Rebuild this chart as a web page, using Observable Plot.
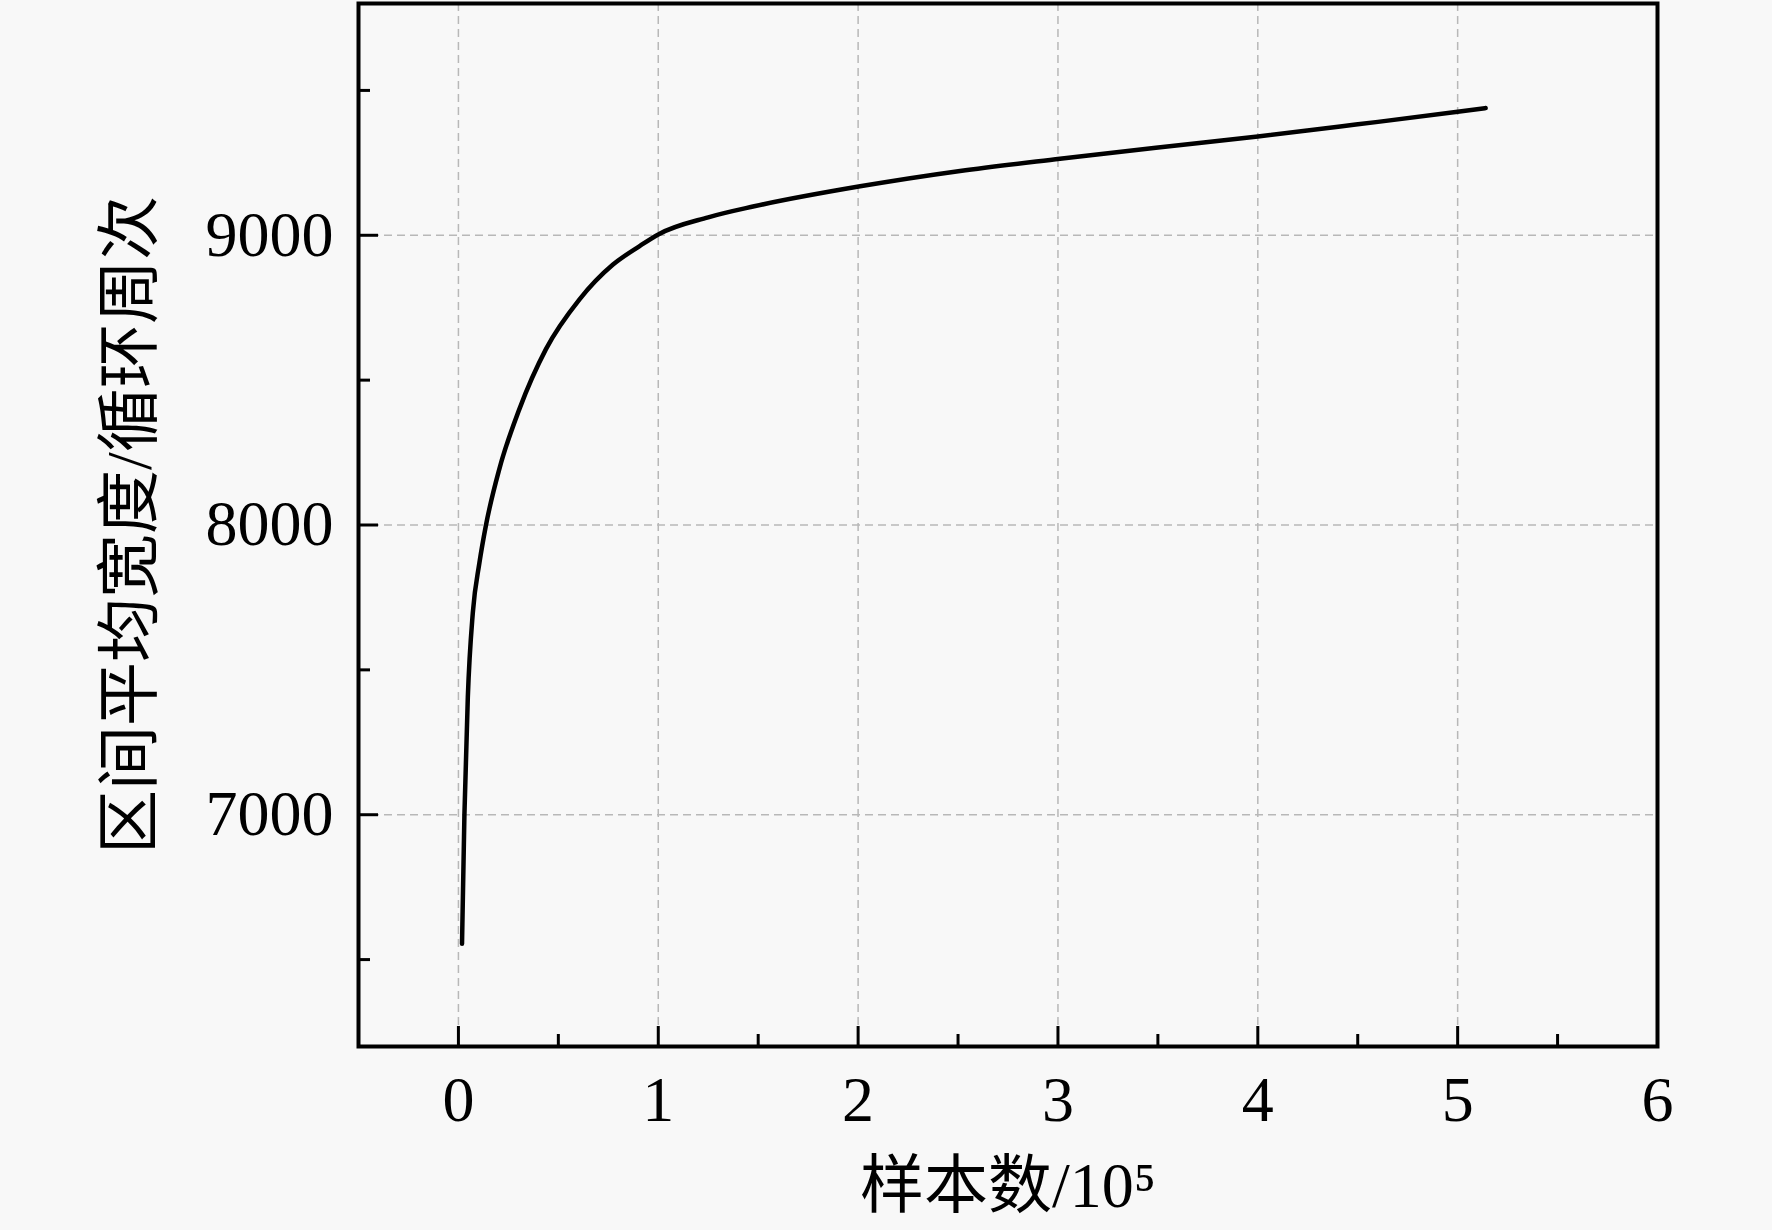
<!DOCTYPE html>
<html>
<head>
<meta charset="utf-8">
<script src="https://cdn.jsdelivr.net/npm/d3@7"></script>
<script src="https://cdn.jsdelivr.net/npm/@observablehq/plot@0.6"></script>
<style>
  html, body { margin: 0; padding: 0; background: #f8f8f8; }
</style>
</head>
<body>
<div id="chart"></div>
<script>
// curve: samples (x 10^5) vs mean interval width
const samples = [0.018, 0.03, 0.047, 0.072, 0.105, 0.138, 0.205, 0.305, 0.438, 0.605, 0.772, 0.905, 1.0, 1.25, 1.48, 2.01, 2.51, 3.01, 3.49, 4.0, 4.49, 5.0, 5.14]
const width_cycles = [6555, 7000, 7405, 7697, 7869, 8000, 8194, 8400, 8607, 8778, 8898, 8962, 9003, 9062, 9100, 9169, 9222, 9264, 9302, 9341, 9382, 9426, 9439]

const xMajor = [0, 1, 2, 3, 4, 5, 6]
const xMinor = [0.5, 1.5, 2.5, 3.5, 4.5, 5.5]
const yMajor = [7000, 8000, 9000]
const yMinor = [6500, 7500, 8500, 9500]

const xTitle = "样本数/10⁵"
const yTitle = "区间平均宽度/循环周次"

const data = samples.map((x, i) => ({x: x, y: width_cycles[i]}))

let chart = Plot.plot({
  width: 1772,
  height: 1230,
  marginLeft: 358,
  marginRight: 115,
  marginTop: 3,
  marginBottom: 184,
  style: {
    background: "#f8f8f8",
    color: "black",
    fontFamily: "'Liberation Serif', 'Noto Sans CJK SC', serif",
    fontSize: "64px",
  },
  x: {domain: [-0.5, 6]},
  y: {domain: [6200, 9800]},
  marks: [
    Plot.gridX({ticks: xMajor, stroke: "#b8b8b8", strokeOpacity: 1, strokeWidth: 1.5, strokeDasharray: "8,5"}),
    Plot.gridY({ticks: yMajor, stroke: "#b8b8b8", strokeOpacity: 1, strokeWidth: 1.5, strokeDasharray: "8,5"}),
    // inward ticks
    Plot.axisX({ticks: xMajor, tickSize: -20, strokeWidth: 3, tickFormat: () => "", label: null}),
    Plot.axisX({ticks: xMinor, tickSize: -12, strokeWidth: 3, tickFormat: () => "", label: null}),
    Plot.axisY({ticks: yMajor, tickSize: -20, strokeWidth: 3, tickFormat: () => "", label: null}),
    Plot.axisY({ticks: yMinor, tickSize: -12, strokeWidth: 3, tickFormat: () => "", label: null}),
    // tick labels
    Plot.axisX({ticks: xMajor, tickSize: 0, tickPadding: 29, fontSize: 64, tickFormat: d => String(d), label: null}),
    Plot.axisY({ticks: yMajor, tickSize: 0, tickPadding: 25, fontSize: 64, tickFormat: d => String(d), label: null}),
    // axis titles
    Plot.text([xTitle], {text: d => d, frameAnchor: "bottom", textAnchor: "middle", lineAnchor: "middle", dy: 140, fontSize: 64}),
    Plot.text([yTitle], {text: d => d, frameAnchor: "left", textAnchor: "middle", lineAnchor: "middle", rotate: -90, dx: -228, fontSize: 64}),
    Plot.line(data, {x: "x", y: "y", stroke: "black", strokeWidth: 4.5, curve: "monotone-x"}),
    Plot.frame({stroke: "black", strokeWidth: 4})
  ]
})

d3.select("#chart").append(() => chart)
</script>
</body>
</html>
